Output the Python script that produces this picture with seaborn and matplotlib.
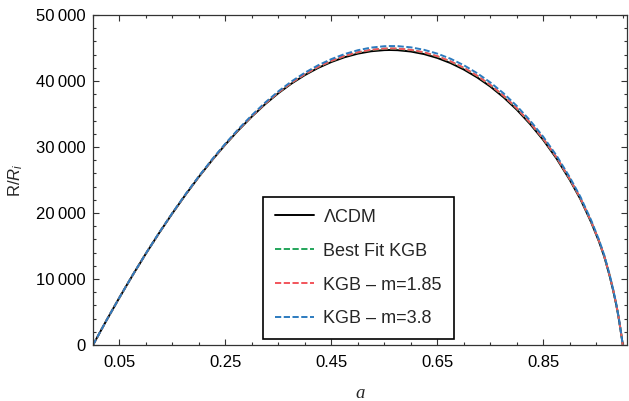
import numpy as np
import pandas as pd
import matplotlib
matplotlib.use("Agg")
import matplotlib.pyplot as plt
from matplotlib.ticker import FixedLocator, MultipleLocator
import seaborn as sns

# ---------------- data ----------------
a_vals = [0.0, 0.025, 0.05, 0.075, 0.1, 0.125, 0.15, 0.175, 0.2, 0.225, 0.25, 0.275,
          0.3, 0.325, 0.35, 0.375, 0.4, 0.425, 0.45, 0.475, 0.5, 0.525, 0.55, 0.5607,
          0.575, 0.6, 0.625, 0.65, 0.675, 0.7, 0.725, 0.75, 0.775, 0.8, 0.825, 0.85,
          0.875, 0.9, 0.92, 0.94, 0.955, 0.965, 0.975, 0.982, 0.988, 0.993, 0.997, 1.0]

r_lcdm = [0, 3670, 7200, 10600, 13865, 16990, 19960, 22800, 25490, 28020, 30380, 32580,
          34620, 36490, 38160, 39630, 40900, 41985, 42880, 43605, 44145, 44505, 44680, 44697,
          44666, 44465, 44075, 43493, 42715, 41738, 40553, 39161, 37533, 35649, 33485, 31055,
          28250, 25011, 22105, 18657, 15701, 13395, 10540, 8222, 5989, 3770, 1676, 0]

r_bestfit = [0, 3672, 7203, 10607, 13875, 17006, 19981, 22828, 25525, 28064, 30432, 32643,
             34694, 36576, 38258, 39742, 41026, 42125, 43034, 43773, 44327, 44701, 44886, 44907,
             44881, 44687, 44303, 43722, 42944, 41966, 40777, 39380, 37743, 35849, 33671, 31227,
             28408, 25151, 22231, 18765, 15796, 13479, 10610, 8280, 6033, 3800, 1692, 0]

r_m185 = [0, 3672, 7204, 10608, 13877, 17008, 19984, 22832, 25530, 28070, 30440, 32652,
          34704, 36588, 38272, 39758, 41044, 42145, 43056, 43797, 44353, 44729, 44916, 44937,
          44912, 44719, 44335, 43755, 42977, 41998, 40809, 39411, 37773, 35877, 33697, 31251,
          28430, 25171, 22249, 18781, 15809, 13491, 10620, 8288, 6039, 3804, 1694, 0]

r_m38 = [0, 3675, 7210, 10620, 13895, 17035, 20020, 22880, 25590, 28145, 30530, 32760,
         34830, 36735, 38440, 39950, 41260, 42385, 43320, 44085, 44665, 45065, 45270, 45297,
         45281, 45100, 44725, 44148, 43370, 42388, 41193, 39786, 38133, 36219, 34015, 31545,
         28700, 25411, 22465, 18967, 15971, 13635, 10740, 8387, 6114, 3855, 1721, 0]

series_names = ["\u039bCDM", "Best Fit KGB", "KGB \u2013 m=1.85", "KGB \u2013 m=3.8"]
series_colors = ["#000000", "#23a55a", "#f2545b", "#2c7bbf"]

x_major = [0.05, 0.25, 0.45, 0.65, 0.85]
x_major_labels = ["0.05", "0.25", "0.45", "0.65", "0.85"]
y_major = [0, 10000, 20000, 30000, 40000, 50000]
y_major_labels = ["0", "10\u2009000", "20\u2009000", "30\u2009000", "40\u2009000", "50\u2009000"]

# ---------------- figure ----------------
sns.set_style("ticks")
plt.rcParams["font.family"] = ["Liberation Sans", "DejaVu Sans"]
plt.rcParams["mathtext.fontset"] = "custom"
plt.rcParams["mathtext.it"] = "Liberation Sans:italic"
plt.rcParams["mathtext.rm"] = "Liberation Sans"

fig = plt.figure(figsize=(6.29, 4.01), dpi=100)
ax = fig.add_axes([93 / 629, 56 / 401, 534 / 629, 330 / 401])

rows = []
for name, vals in zip(series_names, [r_lcdm, r_bestfit, r_m185, r_m38]):
    for x, y in zip(a_vals, vals):
        rows.append({"a": x, "R": y, "series": name})
df = pd.DataFrame(rows)

dash_map = {series_names[0]: "", series_names[1]: (3.2, 1.3),
            series_names[2]: (3.2, 1.3), series_names[3]: (3.2, 1.3)}
palette = dict(zip(series_names, series_colors))

sns.lineplot(data=df, x="a", y="R", hue="series", style="series",
             hue_order=series_names, style_order=series_names,
             palette=palette, dashes=dash_map, linewidth=1.4,
             sort=False, estimator=None, ax=ax)

ax.set_xlim(0.0, 1.008)
ax.set_ylim(0, 50000)

ax.xaxis.set_major_locator(FixedLocator(x_major))
ax.set_xticklabels(x_major_labels)
ax.xaxis.set_minor_locator(MultipleLocator(0.05))
ax.yaxis.set_major_locator(FixedLocator(y_major))
ax.set_yticklabels(y_major_labels)
ax.yaxis.set_minor_locator(MultipleLocator(2000))

ax.tick_params(which="both", direction="in", top=True, right=True,
               color="#333333", labelsize=12, labelcolor="black")
ax.tick_params(which="major", length=4.5, width=0.8)
ax.tick_params(which="minor", length=2.5, width=0.8)
ax.tick_params(axis="x", which="major", pad=7)
ax.tick_params(axis="y", which="major", pad=5)

for sp in ax.spines.values():
    sp.set_visible(True)
    sp.set_color("#333333")
    sp.set_linewidth(0.9)

ax.set_xlabel("a", fontsize=13.5, family="Liberation Serif", style="italic", labelpad=11)
ax.set_ylabel("R/$R_i$", fontsize=12, labelpad=8)

leg = ax.legend(loc="lower left", bbox_to_anchor=(0.318, 0.017), borderaxespad=0,
                fontsize=13, frameon=True, fancybox=False, framealpha=1,
                edgecolor="black", labelspacing=0.94, handlelength=2.2,
                handletextpad=0.5, borderpad=0.66)
leg.get_frame().set_linewidth(1.2)
for h in leg.get_lines():
    h.set_linewidth(1.4)

fig.savefig("out.png", dpi=100)
